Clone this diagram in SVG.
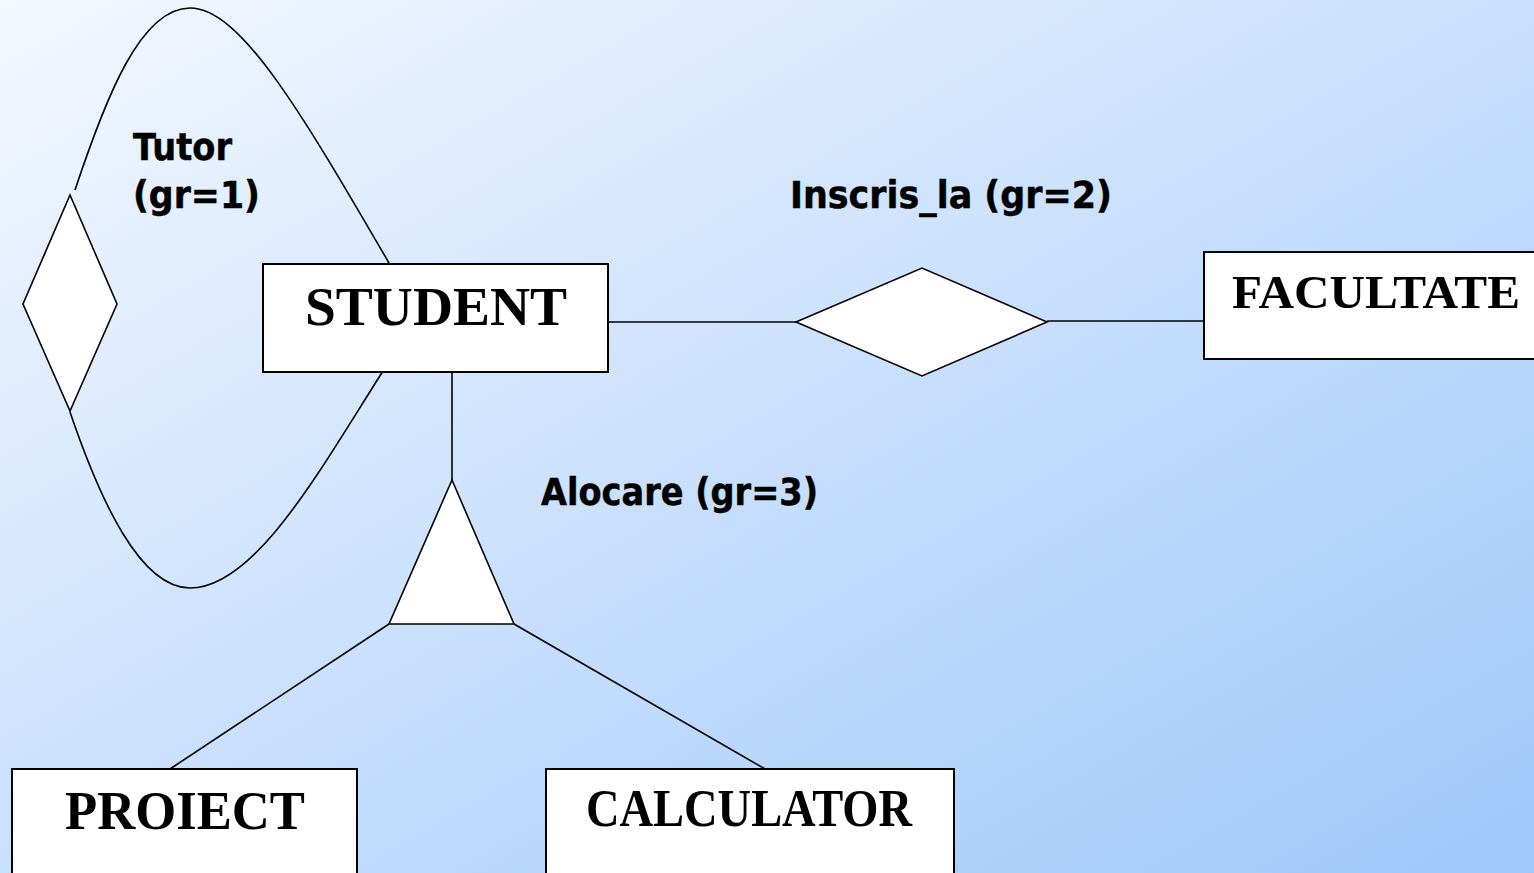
<svg xmlns="http://www.w3.org/2000/svg" width="1534" height="873" viewBox="0 0 1534 873">
<defs>
<linearGradient id="bg" x1="0" y1="0" x2="1" y2="1">
<stop offset="0" stop-color="#f4f8ff"/>
<stop offset="1" stop-color="#9ec8fa"/>
</linearGradient>
<style>
.ent{fill:#fff;stroke:#000;stroke-width:2}
.rel{fill:#fff;stroke:#000;stroke-width:1.6}
.ln{fill:none;stroke:#000;stroke-width:1.6}
.et{font-family:"Liberation Serif","Times New Roman",serif;font-weight:bold;fill:#000}
.lb{font-family:"DejaVu Sans",Verdana,sans-serif;font-weight:bold;font-size:37px;fill:#000;stroke:#000;stroke-width:0.5}
</style>
</defs>
<rect x="0" y="0" width="1534" height="873" fill="url(#bg)"/>
<g id="connectors">
<path class="ln" d="M75,190 C105,100 140,8 190,8 C240,8 300,110 389,263"/>
<path class="ln" d="M70,412 C100,500 140,588 190,588 C255,588 320,470 383,371"/>
<line class="ln" x1="608" y1="322" x2="796" y2="322"/>
<line class="ln" x1="1047" y1="321" x2="1204" y2="321"/>
<line class="ln" x1="452" y1="372" x2="452" y2="480"/>
<line class="ln" x1="389" y1="624" x2="170" y2="769"/>
<line class="ln" x1="514" y1="624" x2="765" y2="769"/>
</g>
<g id="student">
<rect class="ent" x="263" y="264" width="345" height="108"/>
<text class="et" x="436" y="325" font-size="55" text-anchor="middle" textLength="262" lengthAdjust="spacingAndGlyphs">STUDENT</text>
</g>
<g id="facultate">
<rect class="ent" x="1204" y="252" width="340" height="107"/>
<text class="et" x="1376" y="308" font-size="47" text-anchor="middle" textLength="288" lengthAdjust="spacingAndGlyphs">FACULTATE</text>
</g>
<g id="proiect">
<rect class="ent" x="12" y="769" width="345" height="120"/>
<text class="et" x="185" y="829" font-size="55" text-anchor="middle" textLength="240" lengthAdjust="spacingAndGlyphs">PROIECT</text>
</g>
<g id="calculator">
<rect class="ent" x="546" y="769" width="408" height="120"/>
<text class="et" x="749" y="826" font-size="52" text-anchor="middle" textLength="326" lengthAdjust="spacingAndGlyphs">CALCULATOR</text>
</g>
<g id="tutor">
<polygon class="rel" points="70,195 117,304 70,411 23,304"/>
<text class="lb" x="133" y="160" textLength="99" lengthAdjust="spacingAndGlyphs">Tutor</text>
<text class="lb" x="133" y="208" textLength="127" lengthAdjust="spacingAndGlyphs">(gr=1)</text>
</g>
<g id="inscris_la">
<polygon class="rel" points="796,322 922,268 1047,322 922,376"/>
<text class="lb" x="790" y="208" textLength="322" lengthAdjust="spacingAndGlyphs">Inscris_la (gr=2)</text>
</g>
<g id="alocare">
<polygon class="rel" points="452,480 514,624 389,624"/>
<text class="lb" x="541" y="505" textLength="277" lengthAdjust="spacingAndGlyphs">Alocare (gr=3)</text>
</g>
</svg>
